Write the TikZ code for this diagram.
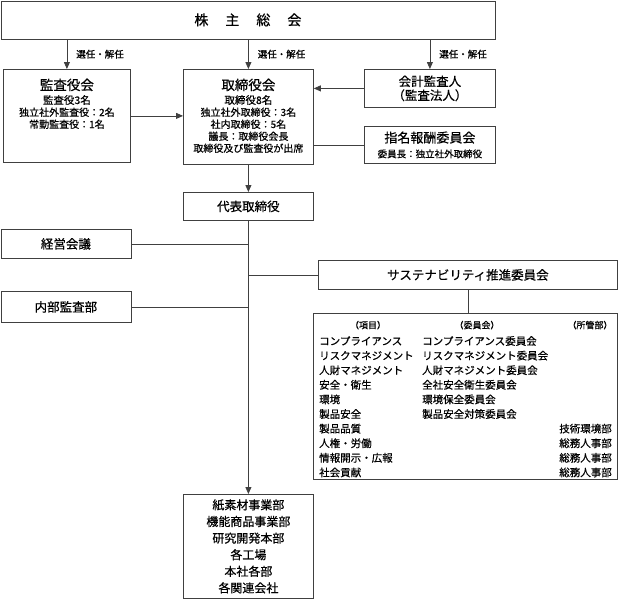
\documentclass[tikz,border=0pt]{standalone}
\usepackage{fontspec}
\setmainfont{Noto Sans CJK JP}[FakeBold=0.6]
\usetikzlibrary{positioning,arrows.meta}
\newcommand\boxtitle{\fontsize{13.5}{15}\selectfont}
\newcommand\boxdetail{\fontsize{10.5}{12.6}\selectfont}

\begin{document}
\begin{tikzpicture}[x=1pt,y=-1pt,
    box/.style={draw=black!75,line width=0.8pt,anchor=north west,inner sep=0pt,align=center,font=\fontsize{12.5}{15}\selectfont},
    boxtext/.style={inner sep=0pt,align=center},
    lbl/.style={font=\fontsize{9.5}{11}\selectfont,inner sep=0pt,right=9pt},
    row/.style={anchor=base west,inner sep=0pt,font=\fontsize{10.5}{12}\selectfont},
    head/.style={anchor=base,inner sep=0pt,font=\fontsize{9}{11}\selectfont},
    line/.style={draw=black!75,line width=0.8pt},
    arr/.style={line,-{Triangle[length=7pt,width=6pt]}}]
  \useasboundingbox (0,0) rectangle (618,600);

  % boxes
  \node[box,minimum width=494pt,minimum height=38pt,font=\fontsize{14}{16}\selectfont] (soukai) at (0.5,0.5)
       {株\hspace{17pt}主\hspace{17pt}総\hspace{17pt}会};
  \node[box,minimum width=127pt,minimum height=93pt] (kansa) at (3,69) {};
  \node[box,minimum width=130pt,minimum height=95pt] (torishimari) at (183,69) {};
  \node[box,minimum width=131pt,minimum height=38pt,font=\fontsize{12.5}{14}\selectfont] (kaikei) at (364,69)
       {会計監査人\\（監査法人）};
  \node[box,minimum width=131pt,minimum height=37pt] (shimei) at (364,126)
       {\fontsize{13}{14}\selectfont 指名報酬委員会\\\fontsize{9.5}{11}\selectfont 委員長：独立社外取締役};
  \node[box,minimum width=130pt,minimum height=28pt] (daihyo) at (183,192) {代表取締役};
  \node[box,minimum width=130pt,minimum height=29pt] (keiei) at (0.5,229) {経営会議};
  \node[box,minimum width=299pt,minimum height=29pt] (sustain) at (318,260) {サステナビリティ推進委員会};
  \node[box,minimum width=130pt,minimum height=31pt] (naibu) at (0.5,291) {内部監査部};
  \node[box,minimum width=304pt,minimum height=166pt] (table) at (313,313) {};
  \node[box,minimum width=130pt,minimum height=104pt,font=\fontsize{12}{16.6}\selectfont] (jigyo) at (183,494)
       {紙素材事業部\\機能商品事業部\\研究開発本部\\各工場\\本社各部\\各関連会社};

  % texts of the tall boxes
  \node[boxtext,below=9.5pt of kansa.north] (kansa_t)
       {\boxtitle 監査役会\\[2pt]\boxdetail 監査役3名\\独立社外監査役：2名\\常勤監査役：1名};
  \node[boxtext,below=9.5pt of torishimari.north] (torishimari_t)
       {\boxtitle 取締役会\\[2pt]\boxdetail 取締役8名\\独立社外取締役：3名\\社内取締役：5名\\議長：取締役会長\\取締役及び監査役が出席};

  % table of the committee
  \node[head] (head_1) at (368,328.5) {（項目）};
  \node[head] (head_2) at (477,328.5) {（委員会）};
  \node[head] (head_3) at (590,328.5) {（所管部）};
  \foreach \koumoku/\iinkai [count=\i] in {
      コンプライアンス/コンプライアンス委員会,
      リスクマネジメント/リスクマネジメント委員会,
      人財マネジメント/人財マネジメント委員会,
      安全・衛生/全社安全衛生委員会,
      環境/環境保全委員会,
      製品安全/製品安全対策委員会} {
    \node[row] (item_\i) at (319,{345+14.6*(\i-1)}) {\koumoku};
    \node[row] (cmte_\i) at (422,{345+14.6*(\i-1)}) {\iinkai};
  }
  \foreach \koumoku/\bu [count=\i from 7] in {
      製品品質/技術環境部,
      人権・労働/総務人事部,
      情報開示・広報/総務人事部,
      社会貢献/総務人事部} {
    \node[row] (item_\i) at (319,{345+14.6*(\i-1)}) {\koumoku};
    \node[row,anchor=base east] (dept_\i) at (612,{345+14.6*(\i-1)}) {\bu};
  }

  % from the general meeting
  \draw[arr] (soukai.south -| kansa.north) -- node[lbl] (sen_1) {選任・解任} (kansa.north);
  \draw[arr] (soukai.south -| torishimari.north) -- node[lbl] (sen_2) {選任・解任} (torishimari.north);
  \draw[arr] (soukai.south -| kaikei.north) -- node[lbl] (sen_3) {選任・解任} (kaikei.north);
  % into the board
  \draw[arr] (kansa.east) -- (kansa.east -| torishimari.west);
  \draw[arr] (kaikei.west) -- (kaikei.west -| torishimari.east);
  \draw[line] (shimei.west) -- (shimei.west -| torishimari.east);
  \draw[arr] (torishimari.south) -- (daihyo.north);
  % trunk and branches
  \draw[arr] (daihyo.south) -- (jigyo.north);
  \draw[line] (keiei.east) -- (keiei.east -| daihyo.south);
  \draw[line] (sustain.west) -- (sustain.west -| daihyo.south);
  \draw[line] (naibu.east) -- (naibu.east -| daihyo.south);
  \draw[line] (sustain.south) -- (sustain.south |- table.north);
\end{tikzpicture}
\end{document}
